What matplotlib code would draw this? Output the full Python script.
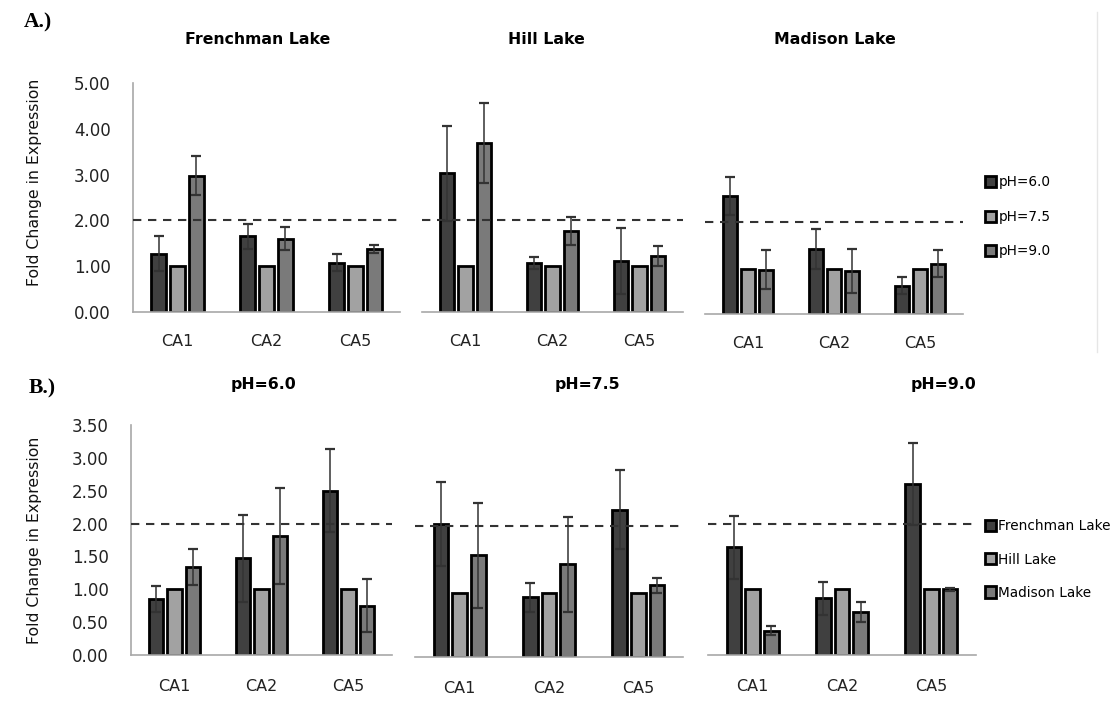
import matplotlib
matplotlib.use('Agg')
import matplotlib.pyplot as plt
from matplotlib.ticker import FormatStrFormatter
from matplotlib.lines import Line2D
import numpy as np

plt.rcParams['font.family'] = ['DejaVu Sans']

genes = ['CA1', 'CA2', 'CA5']

# A.) one panel per lake, bars by pH
lakes = ['Frenchman Lake', 'Hill Lake', 'Madison Lake']
ph_labels = ['pH=6.0', 'pH=7.5', 'pH=9.0']
# values[series] -> CA1, CA2, CA5
frenchman_mean = [[1.27, 1.65, 1.08], [1.00, 1.00, 1.00], [2.98, 1.60, 1.38]]
frenchman_err = [[0.38, 0.27, 0.19], [0.0, 0.0, 0.0], [0.43, 0.25, 0.09]]
hill_mean = [[3.03, 1.07, 1.12], [1.00, 1.00, 1.00], [3.69, 1.77, 1.22]]
hill_err = [[1.04, 0.13, 0.72], [0.0, 0.0, 0.0], [0.87, 0.30, 0.22]]
madison_mean = [[2.58, 1.42, 0.62], [0.99, 0.99, 0.99], [0.97, 0.94, 1.10]]
madison_err = [[0.41, 0.44, 0.19], [0.0, 0.0, 0.0], [0.42, 0.49, 0.30]]

# B.) one panel per pH, bars by lake
ph60_mean = [[0.85, 1.47, 2.50], [1.00, 1.00, 1.00], [1.34, 1.81, 0.75]]
ph60_err = [[0.20, 0.66, 0.63], [0.0, 0.0, 0.0], [0.27, 0.73, 0.40]]
ph75_mean = [[2.02, 0.91, 2.24], [0.98, 0.98, 0.98], [1.55, 1.41, 1.09]]
ph75_err = [[0.64, 0.22, 0.60], [0.0, 0.0, 0.0], [0.80, 0.72, 0.11]]
ph90_mean = [[1.64, 0.86, 2.60], [1.00, 1.00, 1.00], [0.37, 0.65, 1.00]]
ph90_err = [[0.48, 0.25, 0.62], [0.0, 0.0, 0.0], [0.07, 0.15, 0.02]]

bar_colors = ['#404040', '#a2a2a2', '#7a7a7a']

W, H = 1114, 705
fig = plt.figure(figsize=(W / 100, H / 100), dpi=100)


def px_axes(x0, x1, ytop, ybot):
    return fig.add_axes([x0 / W, 1 - ybot / H, (x1 - x0) / W, (ybot - ytop) / H])


def draw_panel(ax, means, errs, ymax, yticks, show_y, label_pad, ylabel_y=0.5):
    x = np.arange(len(genes))
    offsets = [-0.21, 0.0, 0.21]
    handles = []
    for i in range(3):
        bars = ax.bar(x + offsets[i], means[i], width=0.165, color=bar_colors[i],
                      edgecolor='black', linewidth=2.0, zorder=2)
        handles.append(bars)
        e = np.array(errs[i])
        if e.max() > 0:
            ax.errorbar(x + offsets[i], means[i], yerr=e, fmt='none', ecolor='#333333',
                        elinewidth=1.1, capsize=3.5, capthick=1.6, zorder=3)
    ax.axhline(2.0, color='#333333', linestyle=(0, (4, 3.2)), linewidth=1.5, zorder=4)
    ax.set_xlim(-0.5, 2.5)
    ax.set_ylim(0, ymax)
    ax.set_xticks(x)
    ax.set_xticklabels(genes, fontsize=11.5, color='#222222')
    ax.tick_params(axis='x', length=0, pad=label_pad)
    for s in ['top', 'right']:
        ax.spines[s].set_visible(False)
    ax.spines['bottom'].set_color('#a8a8a8')
    ax.spines['bottom'].set_linewidth(1.2)
    if show_y:
        ax.set_yticks(yticks)
        ax.yaxis.set_major_formatter(FormatStrFormatter('%.2f'))
        ax.tick_params(axis='y', length=0, pad=16, labelsize=12, labelcolor='#222222')
        ax.spines['left'].set_color('#a8a8a8')
        ax.spines['left'].set_linewidth(1.2)
        ax.set_ylabel('Fold Change in Expression', fontsize=11.3, color='#111111')
        ax.yaxis.set_label_coords(-0.34, ylabel_y)
    else:
        ax.set_yticks([])
        ax.spines['left'].set_visible(False)
    return handles


# row A
top_axes = [px_axes(133, 400, 83, 312), px_axes(422, 683, 83, 312), px_axes(705, 963, 85, 314)]
top_data = [(frenchman_mean, frenchman_err), (hill_mean, hill_err), (madison_mean, madison_err)]
for k, ax in enumerate(top_axes):
    h_top = draw_panel(ax, top_data[k][0], top_data[k][1], 5.0, np.arange(0, 5.01, 1.0),
                       k == 0, 16, ylabel_y=0.565)

for name, xc in zip(lakes, [258, 546, 835]):
    fig.text(xc / W, 1 - 40 / H, name, ha='center', va='center', fontsize=11.3, fontweight='bold')

fig.legend(h_top, ph_labels, loc='upper left', bbox_to_anchor=(980 / W, 1 - 170 / H),
           frameon=False, fontsize=9.8, handlelength=0.75, handleheight=0.9,
           handletextpad=0.2, labelspacing=1.5, borderaxespad=0)

# row B
bot_axes = [px_axes(131, 392, 425, 655), px_axes(415, 683, 427, 657), px_axes(708, 976, 425, 655)]
bot_data = [(ph60_mean, ph60_err), (ph75_mean, ph75_err), (ph90_mean, ph90_err)]
for k, ax in enumerate(bot_axes):
    h_bot = draw_panel(ax, bot_data[k][0], bot_data[k][1], 3.5, np.arange(0, 3.51, 0.5),
                       k == 0, 17, ylabel_y=0.5)

for name, xc in zip(ph_labels, [263, 587, 943]):
    fig.text(xc / W, 1 - 385 / H, name, ha='center', va='center', fontsize=11.3, fontweight='bold')

fig.legend(h_bot, lakes, loc='upper left', bbox_to_anchor=(980 / W, 1 - 514 / H),
           frameon=False, fontsize=9.8, handlelength=0.75, handleheight=0.9,
           handletextpad=0.2, labelspacing=1.4, borderaxespad=0)

# panel letters
fig.text(24 / W, 1 - 22 / H, 'A.)', fontsize=15.5, fontweight='bold',
         family='Liberation Serif', va='center')
fig.text(29 / W, 1 - 388 / H, 'B.)', fontsize=15.5, fontweight='bold',
         family='Liberation Serif', va='center')

# faint chart frame edge on the right of row A
fig.add_artist(Line2D([1097 / W, 1097 / W], [1 - 12 / H, 1 - 352 / H],
                      color='#e6e6e6', linewidth=1))

fig.savefig('out.png', dpi=100, facecolor='white')
